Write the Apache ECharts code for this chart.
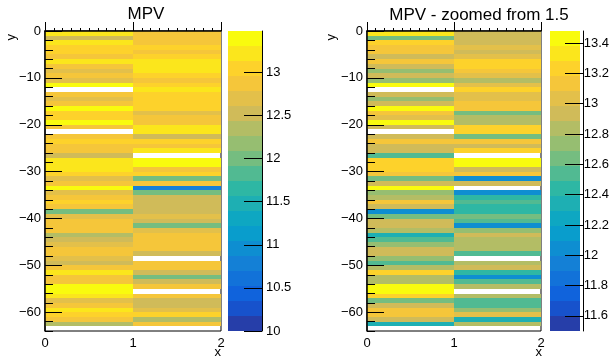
<!DOCTYPE html>
<html>
<head>
<meta charset="utf-8">
<script src="https://cdn.jsdelivr.net/npm/echarts@6/dist/echarts.min.js"></script>
<style>
  html, body { margin: 0; padding: 0; background: #fff; }
  #chart { width: 612px; height: 358px; }
</style>
</head>
<body>
<div id="chart"></div>
<script>
// x bins: [0,1] and [1,2]; row k covers y in [-(k+1), -k]
const xEdges = [0, 1, 2]
const colA = [
  13.30, 12.60, 13.22, 13.10, 13.10, 12.92, 13.15, 12.95, 12.72, 12.95,
  12.74, 13.42, null, 12.90, 12.72, 12.95, 13.42, 13.10, 13.05, 13.42,
  12.95, null, 12.92, 13.12, 12.95, 12.92, 12.54, 13.24, 13.24, 13.22,
  13.12, 12.64, 12.94, 13.42, 12.78, 12.80, 13.12, 12.94, 12.05, 12.62,
  12.94, 12.94, 12.84, 12.35, 12.54, 12.74, 12.94, 12.94, 12.74, 12.54,
  12.84, 13.24, 12.84, 12.84, 13.44, 13.44, 13.24, 12.64, 12.94, 13.14,
  13.12, 12.94, 12.35, null
]
const colB = [
  12.95, 12.95, 12.95, 13.00, 12.90, 13.08, 13.25, 13.22, 13.18, 13.05,
  12.80, 13.00, 13.20, 13.05, 13.00, 13.10, 13.10, 12.62, 12.82, 12.84,
  13.22, 13.22, 12.60, 13.12, 12.95, 13.22, null, 13.44, 13.44, 12.94,
  13.12, 12.05, 12.92, 10.80, 12.05, 12.44, 12.54, 12.44, 12.44, 12.62,
  12.52, 12.05, 12.74, 12.94, 12.84, 12.84, 12.84, 12.54, null, 12.84,
  12.94, 12.44, 12.05, 12.54, 12.84, null, 12.84, 12.54, 12.54, 12.74,
  13.04, 12.35, 12.84, null
]
const zRangeLeft = [10, 13.48]
const zRangeRight = [11.5, 13.48]
const cbTicksLeft = [10, 10.5, 11, 11.5, 12, 12.5, 13]
const cbTicksRight = [11.6, 11.8, 12, 12.2, 12.4, 12.6, 12.8, 13, 13.2, 13.4]
const yTicks = [0, -10, -20, -30, -40, -50, -60]
const xTicks = [0, 1, 2]
const nLevels = 20

// ROOT kBird palette
const birdStops = [0, 0.125, 0.25, 0.375, 0.5, 0.625, 0.75, 0.875, 1]
const birdR = [0.2082, 0.0592, 0.0780, 0.0232, 0.1802, 0.5301, 0.8186, 0.9956, 0.9764]
const birdG = [0.1664, 0.3599, 0.5041, 0.6419, 0.7178, 0.7492, 0.7328, 0.7862, 0.9832]
const birdB = [0.5293, 0.8684, 0.8385, 0.7914, 0.6425, 0.4662, 0.3499, 0.1968, 0.0539]
function bird(f) {
  f = Math.min(1, Math.max(0, f))
  let i = 0
  while (i < birdStops.length - 2 && f > birdStops[i + 1]) i++
  const t = (f - birdStops[i]) / (birdStops[i + 1] - birdStops[i])
  const c = (a) => Math.round(255 * (a[i] + t * (a[i + 1] - a[i])))
  return 'rgb(' + c(birdR) + ',' + c(birdG) + ',' + c(birdB) + ')'
}

function levels(range) {
  const step = (range[1] - range[0]) / nLevels
  const out = []
  for (let i = 0; i < nLevels; i++) {
    out.push({ lo: range[0] + i * step, hi: range[0] + (i + 1) * step, color: bird((i + 0.99) / nLevels) })
  }
  return out
}

function pieces(range) {
  return levels(range).map((l, i) => i === nLevels - 1
    ? { gte: l.lo, lte: l.hi + 1e-9, color: l.color }
    : { gte: l.lo, lt: l.hi, color: l.color })
}

function cells(range) {
  const out = []
  const cols = [colA, colB]
  cols.forEach((col, c) => {
    col.forEach((v, k) => {
      if (v === null || v < range[0]) return
      out.push([xEdges[c], xEdges[c + 1], -(k + 1), -k, v])
    })
  })
  return out
}

function barCells(range) {
  return levels(range).map(l => [0, 1, l.lo, l.hi, (l.lo + l.hi) / 2])
}

function renderCell(params, api) {
  const p0 = api.coord([api.value(0), api.value(3)])
  const p1 = api.coord([api.value(1), api.value(2)])
  const x0 = Math.round(p0[0]), x1 = Math.round(p1[0])
  const y0 = Math.round(p0[1]), y1 = Math.round(p1[1])
  return {
    type: 'rect',
    shape: { x: x0, y: y0, width: x1 - x0, height: y1 - y0 },
    style: { fill: api.visual('color') }
  }
}

const font = '"Liberation Sans", Arial, Helvetica, sans-serif'
const labelStyle = { color: '#000', fontSize: 13, fontFamily: font }
const minus = (v) => String(v).replace('-', '\u2212')

function plotAxes(gi) {
  return {
    x: [
      {
        gridIndex: gi, type: 'value', min: 0, max: 2, interval: 0.1, z: 10,
        axisLine: { show: true, lineStyle: { color: '#000', width: 1.5 } },
        axisTick: { show: true, inside: true, length: 3, lineStyle: { color: '#000' } },
        axisLabel: { show: false },
        splitLine: { show: false }
      },
      {
        gridIndex: gi + 1, type: 'value', min: 0, max: 2, z: 10,
        axisLine: { show: false },
        axisTick: { show: true, inside: true, length: 9, customValues: xTicks, lineStyle: { color: '#000' } },
        axisLabel: Object.assign({ customValues: xTicks, margin: 6 }, labelStyle),
        splitLine: { show: false }
      }
    ],
    y: [
      {
        gridIndex: gi, type: 'value', min: -64, max: 0, interval: 2, z: 10,
        axisLine: { show: true, lineStyle: { color: '#000', width: 1.5 } },
        axisTick: { show: true, inside: true, length: 8, lineStyle: { color: '#000' } },
        axisLabel: { show: false },
        splitLine: { show: false }
      },
      {
        gridIndex: gi + 1, type: 'value', min: -64, max: 0, z: 10,
        axisLine: { show: false },
        axisTick: { show: true, inside: true, length: 17, customValues: yTicks, lineStyle: { color: '#000' } },
        axisLabel: Object.assign({ customValues: yTicks, margin: 4, formatter: minus }, labelStyle),
        splitLine: { show: false }
      }
    ]
  }
}

// colour bar: labels on the bar's own right axis, line and ticks on a thin overlay grid at its right edge
function barAxes(gi, range, ticks) {
  return {
    x: [
      { gridIndex: gi, type: 'value', min: 0, max: 1, show: false },
      { gridIndex: gi + 1, type: 'value', min: 0, max: 1, show: false }
    ],
    y: [
      {
        gridIndex: gi, type: 'value', position: 'right', min: range[0], max: range[1], z: 10,
        axisLine: { show: false },
        axisTick: { show: false },
        axisLabel: Object.assign({ customValues: ticks, margin: 4 }, labelStyle),
        splitLine: { show: false }
      },
      {
        gridIndex: gi + 1, type: 'value', position: 'left', min: range[0], max: range[1], z: 10,
        axisLine: { show: true, lineStyle: { color: '#000', width: 1 } },
        axisTick: { show: true, inside: false, length: 18, customValues: ticks, lineStyle: { color: '#000' } },
        axisLabel: { show: false },
        splitLine: { show: false }
      }
    ]
  }
}

const leftAx = plotAxes(0)
const leftBar = barAxes(2, zRangeLeft, cbTicksLeft)
const rightAx = plotAxes(4)
const rightBar = barAxes(6, zRangeRight, cbTicksRight)

const plotGrid = (left, width) => ({
  left: left, top: 31, width: width, height: 300,
  show: true, borderColor: '#000', borderWidth: 1, backgroundColor: 'transparent'
})
const plainGrid = (left, width) => ({ left: left, top: 31, width: width, height: 300 })

const chart = echarts.init(document.getElementById('chart'), null, { renderer: 'canvas' })
chart.setOption({
  animation: false,
  backgroundColor: '#fff',
  grid: [
    plotGrid(45, 176), plainGrid(45, 176), plainGrid(228, 34), plainGrid(262, 1),
    plotGrid(367, 174), plainGrid(367, 174), plainGrid(550, 33), plainGrid(583, 1)
  ],
  xAxis: [leftAx.x[0], leftAx.x[1], leftBar.x[0], leftBar.x[1], rightAx.x[0], rightAx.x[1], rightBar.x[0], rightBar.x[1]],
  yAxis: [leftAx.y[0], leftAx.y[1], leftBar.y[0], leftBar.y[1], rightAx.y[0], rightAx.y[1], rightBar.y[0], rightBar.y[1]],
  visualMap: [
    { type: 'piecewise', show: false, dimension: 4, seriesIndex: [0, 1], pieces: pieces(zRangeLeft),
      outOfRange: { color: 'rgba(255,255,255,0)' } },
    { type: 'piecewise', show: false, dimension: 4, seriesIndex: [2, 3], pieces: pieces(zRangeRight),
      outOfRange: { color: 'rgba(255,255,255,0)' } }
  ],
  series: [
    { type: 'custom', name: 'MPV', xAxisIndex: 0, yAxisIndex: 0, renderItem: renderCell, data: cells(zRangeLeft) },
    { type: 'custom', xAxisIndex: 2, yAxisIndex: 2, renderItem: renderCell, data: barCells(zRangeLeft) },
    { type: 'custom', name: 'MPV - zoomed from 1.5', xAxisIndex: 4, yAxisIndex: 4, renderItem: renderCell, data: cells(zRangeRight) },
    { type: 'custom', xAxisIndex: 6, yAxisIndex: 6, renderItem: renderCell, data: barCells(zRangeRight) }
  ],
  graphic: [
    { type: 'text', x: 146, y: 14, style: { text: 'MPV', fontSize: 17, fontFamily: font, fill: '#000', textAlign: 'center', textVerticalAlign: 'middle' } },
    { type: 'text', x: 479, y: 15, style: { text: 'MPV - zoomed from 1.5', fontSize: 17, fontFamily: font, fill: '#000', textAlign: 'center', textVerticalAlign: 'middle' } },
    { type: 'text', x: 11, y: 34, rotation: Math.PI / 2, style: { text: 'y', fontSize: 13, fontFamily: font, fill: '#000', textAlign: 'right', textVerticalAlign: 'middle' } },
    { type: 'text', x: 331, y: 34, rotation: Math.PI / 2, style: { text: 'y', fontSize: 13, fontFamily: font, fill: '#000', textAlign: 'right', textVerticalAlign: 'middle' } },
    { type: 'text', x: 221, y: 352, style: { text: 'x', fontSize: 13, fontFamily: font, fill: '#000', textAlign: 'right', textVerticalAlign: 'middle' } },
    { type: 'text', x: 542, y: 352, style: { text: 'x', fontSize: 13, fontFamily: font, fill: '#000', textAlign: 'right', textVerticalAlign: 'middle' } }
  ]
})
</script>
</body>
</html>
